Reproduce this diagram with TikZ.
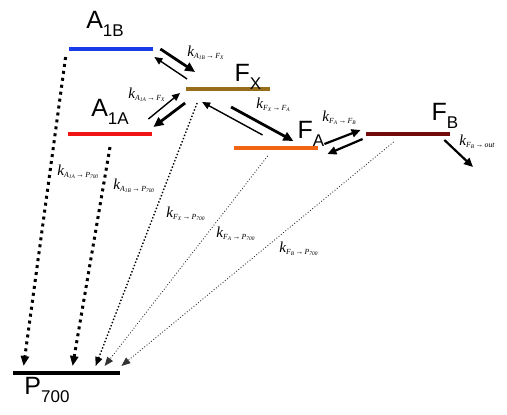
\documentclass[tikz,border=0pt]{standalone}
\usepackage{fontspec}
\setsansfont{Liberation Sans}
\newfontfamily\ratefont{Liberation Serif}
\usetikzlibrary{positioning, arrows.meta}

\definecolor{a1bcol}{RGB}{25,60,235}
\definecolor{a1acol}{RGB}{240,20,20}
\definecolor{fxcol}{RGB}{150,110,25}
\definecolor{facol}{RGB}{240,100,20}
\definecolor{fbcol}{RGB}{115,10,10}

% level name with a low subscript
\newcommand{\lvlname}[2]{#1\raisebox{-0.55ex}{\fontsize{8.5}{8.5}\selectfont #2}}
% rate constant with tiny subscripts
\newcommand{\rsub}[1]{\raisebox{-0.6pt}{\fontsize{2.7}{2.7}\selectfont #1}}
\newcommand{\rk}[2]{{\ratefont\itshape k\raisebox{-1.3pt}{\fontsize{3.9}{3.9}\selectfont #1\,\textup{→}\,#2}}}

\begin{document}
\begin{tikzpicture}[
		x=0.5pt, y=-0.5pt,
		every node/.style={inner sep=0pt},
		level/.style={draw=none, minimum height=1.6pt, minimum width=42pt},
		lvltext/.style={font=\sffamily\fontsize{12.5}{12.5}\selectfont},
		rate/.style={font=\fontsize{7.6}{7.6}\selectfont, anchor=base west},
		fwd/.style={-{Triangle[length=5pt,width=4.5pt]}, line width=1.4pt},
		mid/.style={-{Triangle[length=4.5pt,width=4pt]}, line width=1.1pt},
		bwd/.style={-{Triangle[length=4pt,width=3.5pt]}, line width=0.7pt},
		decay/.style={-{Triangle[length=5pt,width=4pt]}, line width=1.5pt, dotted},
		thindecay/.style={-{Triangle[length=4.5pt,width=3.5pt]}, line width=0.7pt, densely dotted},
		finedecay/.style={-{Triangle[length=4.5pt,width=3.5pt]}, line width=0.45pt, black!80, densely dotted},
		]
		\useasboundingbox (0,0) rectangle (507,414);
		
		% Energy levels
		\node[level, fill=a1bcol] (a1b) at (111,49) {};
		\node[level, fill=a1acol] (a1a) at (110,134) {};
		\node[level, fill=fxcol] (fx) at (227.5,89) {};
		\node[level, fill=facol] (fa) at (276,148) {};
		\node[level, fill=fbcol] (fb) at (408,134) {};
		\node[level, fill=black, minimum width=53.5pt] (p700) at (66.5,373) {};
		
		% Level names
		\node[lvltext] (a1bname) at (105,24) {\lvlname{A}{1B}};
		\node[lvltext] (a1aname) at (110,112) {\lvlname{A}{1A}};
		\node[lvltext] (fxname) at (248,77) {\lvlname{F}{X}};
		\node[lvltext] (faname) at (311,134) {\lvlname{F}{A}};
		\node[lvltext] (fbname) at (445,116) {\lvlname{F}{B}};
		\node[lvltext] (p700name) at (47,390) {\lvlname{P}{700}};
		
		% Transfer between cofactors
		\draw[fwd] ([shift={(7,0)}]a1b.east) -- ([shift={(10,-17)}]fx.west);
		\draw[bwd] ([shift={(2,-10)}]fx.west) -- ([shift={(1,8)}]a1b.east);
		\draw[bwd] ([shift={(-4,-15)}]a1a.east) -- ([shift={(-5,4)}]fx.west);
		\draw[fwd] ([shift={(0,14)}]fx.west) -- ([shift={(1,-7)}]a1a.east);
		\draw[fwd] ([shift={(46,18)}]fx.west) -- ([shift={(-25,-7)}]fa.east);
		\draw[bwd] ([shift={(29,-13)}]fa.west) -- ([shift={(17,13)}]fx.west);
		\draw[mid] ([shift={(6,-4)}]fa.east) -- ([shift={(-5,-4)}]fb.west);
		\draw[mid] ([shift={(-3,5)}]fb.west) -- ([shift={(9,6)}]fa.east);
		\coordinate (out) at (473,167);
		\draw[mid] ([shift={(-6,6)}]fb.east) -- (out);
		
		% Recombination to P700
		\draw[decay] ([shift={(-3,8)}]a1b.west) -- ([shift={(11,-7)}]p700.west);
		\draw[decay] ([shift={(0,13)}]a1a.center) -- ([shift={(60,-7)}]p700.west);
		\draw[thindecay] ([shift={(12,14)}]fx.west) -- ([shift={(83,-7)}]p700.west);
		\draw[finedecay] ([shift={(34,8)}]fa.west) -- ([shift={(92,-7)}]p700.west);
		\draw[finedecay] ([shift={(28,8)}]fb.west) -- ([shift={(1,-7)}]p700.east);
		
		% Rate constants
		\node[rate] (ka1bfx) at (187,56) {\rk{A\rsub{1B}}{F\rsub{X}}};
		\node[rate] (ka1afx) at (128,98) {\rk{A\rsub{1A}}{F\rsub{X}}};
		\node[rate] (kfxfa) at (256,108) {\rk{F\rsub{X}}{F\rsub{A}}};
		\node[rate] (kfafb) at (322,121) {\rk{F\rsub{A}}{F\rsub{B}}};
		\node[rate] (kfbout) at (459,145) {\rk{F\rsub{B}}{out}};
		\node[rate] (ka1ap) at (57,175) {\rk{A\rsub{1A}}{P\rsub{700}}};
		\node[rate] (ka1bp) at (113,189) {\rk{A\rsub{1B}}{P\rsub{700}}};
		\node[rate] (kfxp) at (166,217) {\rk{F\rsub{X}}{P\rsub{700}}};
		\node[rate] (kfap) at (216,237) {\rk{F\rsub{A}}{P\rsub{700}}};
		\node[rate] (kfbp) at (279,252) {\rk{F\rsub{B}}{P\rsub{700}}};
		
	\end{tikzpicture}
\end{document}
